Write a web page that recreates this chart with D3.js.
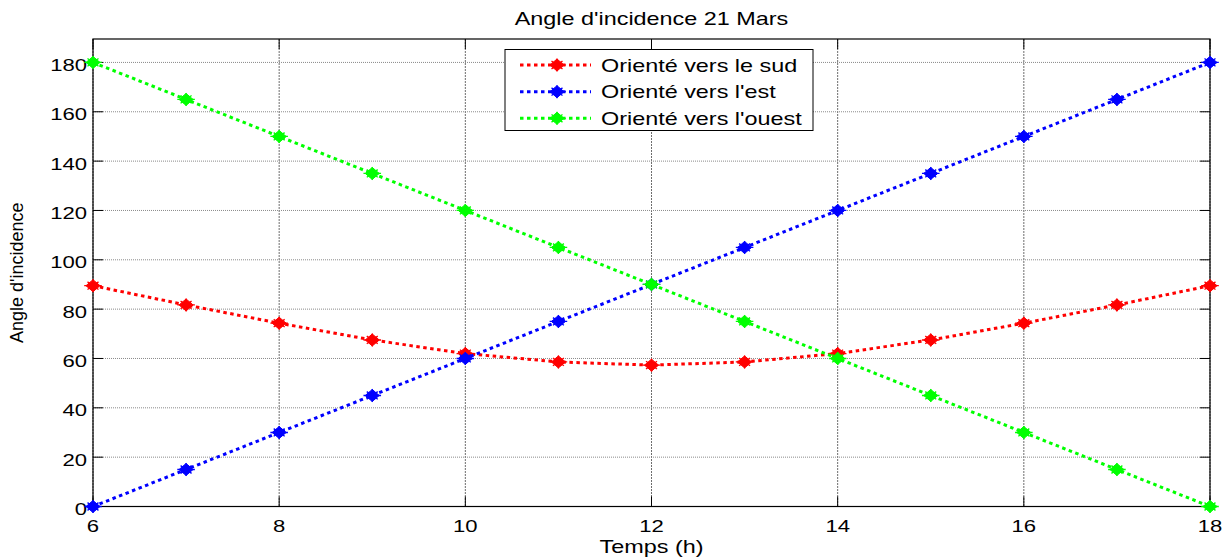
<!DOCTYPE html>
<html>
<head>
<meta charset="utf-8">
<script src="https://cdn.jsdelivr.net/npm/d3@7"></script>
<style>
  html, body { margin: 0; padding: 0; background: #fff; }
  svg { display: block; }
  text { font-family: "Liberation Sans", Arial, Helvetica, sans-serif; fill: #000; }
</style>
</head>
<body>
<svg id="chart" width="1228" height="559"></svg>
<script>
// Hours of the day (solar time)
const hours = [6, 7, 8, 9, 10, 11, 12, 13, 14, 15, 16, 17, 18];
// Incidence angle (degrees) for each orientation
const sud   = [89.5, 81.7, 74.3, 67.5, 62.0, 58.6, 57.3, 58.6, 62.0, 67.5, 74.3, 81.7, 89.5];
const est   = [0, 15, 30, 45, 60, 75, 90, 105, 120, 135, 150, 165, 180];
const ouest = [180, 165, 150, 135, 120, 105, 90, 75, 60, 45, 30, 15, 0];

const seriesNames  = ["Orienté vers le sud", "Orienté vers l'est", "Orienté vers l'ouest"];
const seriesColors = ["#ff0000", "#0000ff", "#00ff00"];
const xTicks = [6, 8, 10, 12, 14, 16, 18];
const yTicks = [0, 20, 40, 60, 80, 100, 120, 140, 160, 180];
const title  = "Angle d'incidence 21 Mars";
const xLabel = "Temps (h)";
const yLabel = "Angle d'incidence";

const svg = d3.select("#chart");
const SX = 1.3; // horizontal stretch of the glyphs

const x = d3.scaleLinear().domain([6, 18]).range([93, 1210]);
const y = d3.scaleLinear().domain([0, 189.5]).range([506.5, 39]);
const [L, R] = x.range();
const [B, T] = y.range();

function label(g, px, py, str, size, anchor, sx = SX) {
  return g.append("text")
    .attr("transform", `translate(${px},${py}) scale(${sx},1)`)
    .attr("text-anchor", anchor)
    .attr("font-size", size)
    .text(str);
}

// Grid
const grid = svg.append("g");
grid.selectAll("line.gx").data(xTicks).join("line")
  .attr("x1", d => x(d)).attr("x2", d => x(d)).attr("y1", T).attr("y2", B)
  .attr("stroke", "#6e6e6e").attr("stroke-width", 1).attr("stroke-dasharray", "2,1");
grid.selectAll("line.gy").data(yTicks).join("line")
  .attr("x1", L).attr("x2", R).attr("y1", d => y(d)).attr("y2", d => y(d))
  .attr("stroke", "#8a8a8a").attr("stroke-width", 1).attr("stroke-dasharray", "1,1");

// Inward tick marks on all four sides
const tickLen = 10;
const ticks = svg.append("g").attr("stroke", "#000").attr("stroke-width", 1);
xTicks.forEach(d => {
  ticks.append("line").attr("x1", x(d)).attr("x2", x(d)).attr("y1", B).attr("y2", B - tickLen);
  ticks.append("line").attr("x1", x(d)).attr("x2", x(d)).attr("y1", T).attr("y2", T + tickLen);
});
yTicks.forEach(d => {
  ticks.append("line").attr("x1", L).attr("x2", L + tickLen).attr("y1", y(d)).attr("y2", y(d));
  ticks.append("line").attr("x1", R).attr("x2", R - tickLen).attr("y1", y(d)).attr("y2", y(d));
});

// Tick labels
const tl = svg.append("g");
xTicks.forEach(d => label(tl, x(d), B + 25.5, d, 17, "middle"));
yTicks.forEach(d => label(tl, L - 6, y(d) + 8.4, d, 17, "end"));

// Frame
svg.append("rect").attr("x", L).attr("y", T).attr("width", R - L).attr("height", B - T)
  .attr("fill", "none").attr("stroke", "#000").attr("stroke-width", 1.2);

// Marker: filled diamond with short star spokes
function marker(g, cx, cy, color) {
  const m = g.append("g").attr("transform", `translate(${cx},${cy})`);
  m.append("path").attr("d", "M-7,0 L0,-6 L7,0 L0,6 Z").attr("fill", color).attr("stroke", color).attr("stroke-width", 1);
  const s = 5.5;
  m.append("path")
    .attr("d", `M${-s * 1.6},0 L${s * 1.6},0 M0,${-s - 1} L0,${s + 1} M${-s},${-s * 0.7} L${s},${s * 0.7} M${-s},${s * 0.7} L${s},${-s * 0.7}`)
    .attr("stroke", color).attr("stroke-width", 1.3).attr("fill", "none");
}

// Series
const allSeries = [sud, est, ouest];
const line = d3.line().x((d, i) => x(hours[i])).y(d => y(d));
allSeries.forEach((vals, k) => {
  const g = svg.append("g");
  g.append("path").datum(vals).attr("d", line)
    .attr("fill", "none").attr("stroke", seriesColors[k]).attr("stroke-width", 3)
    .attr("stroke-dasharray", "3.5,3.5");
  vals.forEach((v, i) => marker(g, x(hours[i]), y(v), seriesColors[k]));
});

// Legend
const lg = svg.append("g");
lg.append("rect").attr("x", 505).attr("y", 49.5).attr("width", 308).attr("height", 81)
  .attr("fill", "#fff").attr("stroke", "#000").attr("stroke-width", 1);
const rows = [65, 91.7, 118.3];
seriesNames.forEach((name, k) => {
  lg.append("line").attr("x1", 520).attr("x2", 591).attr("y1", rows[k]).attr("y2", rows[k])
    .attr("stroke", seriesColors[k]).attr("stroke-width", 3).attr("stroke-dasharray", "3.5,3.5");
  marker(lg, 557, rows[k], seriesColors[k]);
  label(lg, 601, rows[k] + 6.5, name, 18, "start");
});

// Title and axis labels
label(svg, (L + R) / 2, 25, title, 18, "middle");
label(svg, (L + R) / 2, 553, xLabel, 18, "middle");
svg.append("text")
  .attr("transform", `translate(23.3,${(T + B) / 2}) rotate(-90)`)
  .attr("text-anchor", "middle")
  .attr("font-size", 18)
  .text(yLabel);
</script>
</body>
</html>
